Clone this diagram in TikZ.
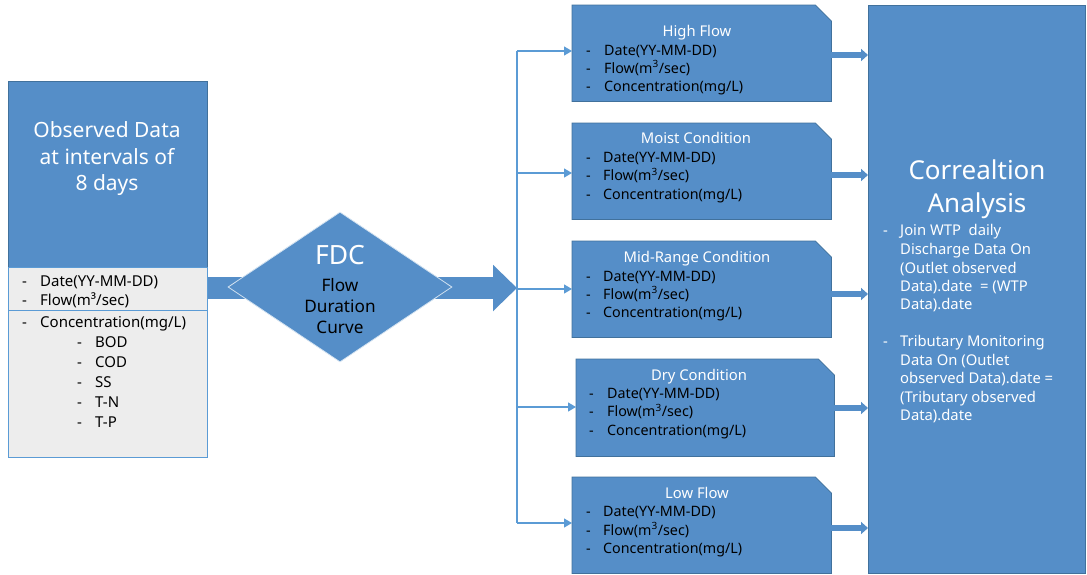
\documentclass[tikz,border=0pt]{standalone}
\usepackage{fontspec}
\setmainfont{Noto Sans}
\usetikzlibrary{arrows.meta,shapes.geometric,calc}
\definecolor{cblue}{RGB}{85,142,200}
\definecolor{cedge}{RGB}{65,113,156}
\definecolor{cline}{RGB}{91,155,213}
\definecolor{cgrey}{RGB}{237,237,237}
\newcommand\rowitem[6]{%
  \node[txt,font=\fontsize{#6}{#6}\selectfont] (#1d) at (#2,#4) {-};
  \node[txt,font=\fontsize{#6}{#6}\selectfont] (#1) at (#3,#4) {#5};}
\begin{document}
\begin{tikzpicture}[x=1pt,y=-1pt,
  txt/.style={inner sep=0pt,anchor=west,text height=1.04em,text depth=0pt,text=black},
  ctxt/.style={inner sep=0pt,anchor=center,text height=1.04em,text depth=0pt},
  btxt/.style={inner sep=0pt,anchor=center,text height=1.4em,text depth=0pt},
  wtxt/.style={txt,text=white,font=\fontsize{14.8}{15}\selectfont},
  ttl/.style={ctxt,text=white,font=\fontsize{14.8}{15}\selectfont},
  boxfill/.style={fill=cblue,draw=cedge,line width=0.8pt},
  branch/.style={draw=cline,line width=1.2pt,-{Triangle[length=8pt,width=9pt]}},
  smallarrow/.style={draw=cblue,line width=5.5pt,-{Triangle[length=7pt,width=12pt]}},
  box/.style={rectangle,inner sep=0pt,anchor=north west}]
\useasboundingbox (0,0) rectangle (1087,574);

% ---------- left box ----------
\node[box,fill=cblue,draw=cedge,line width=0.8pt,minimum width=199pt,minimum height=186pt] (obs) at (8,81) {};
\node[box,fill=cgrey,draw=cline,line width=0.8pt,minimum width=199pt,minimum height=190pt] (obsd) at (8,267) {};
\draw[cline,line width=0.8pt] ($(obsd.north west)+(0,43)$) -- ($(obsd.north east)+(0,43)$);
\node[btxt,text=white,font=\fontsize{21}{21}\selectfont] (obst1) at (107,130) {Observed Data};
\node[btxt,text=white,font=\fontsize{21}{21}\selectfont] (obst2) at (107,157) {at intervals of};
\node[btxt,text=white,font=\fontsize{21}{21}\selectfont] (obst3) at (107,183) {8 days};
\rowitem{la}{22}{40}{281}{Date(YY-MM-DD)}{15}
\rowitem{lb}{22}{40}{300}{Flow(m³/sec)}{15}
\rowitem{lc}{22}{40}{322}{Concentration(mg/L)}{15}
\rowitem{ld}{77}{95}{342}{BOD}{15}
\rowitem{le}{77}{95}{362}{COD}{15}
\rowitem{lf}{77}{95}{382}{SS}{15}
\rowitem{lg}{77}{95}{402}{T-N}{15}
\rowitem{lh}{77}{95}{422}{T-P}{15}

% ---------- big arrow and diamond ----------
\coordinate (br) at (517,288);
\draw[cblue,line width=22pt,-{Triangle[length=24pt,width=45pt]}] (obs.south east |- br) -- (br);
\node[diamond,fill=cblue,draw=white!75!cblue,line width=0.8pt,inner sep=0pt,minimum width=224pt,minimum height=150pt] (fdc) at (340,287) {};
\node[btxt,text=white,font=\fontsize{26.5}{27}\selectfont] (fdct) at (340,257) {FDC};
\node[ctxt,text=black,font=\fontsize{17.2}{18}\selectfont] (fdcs1) at (340,286) {Flow};
\node[ctxt,text=black,font=\fontsize{17.2}{18}\selectfont] (fdcs2) at (340,307) {Duration};
\node[ctxt,text=black,font=\fontsize{17.2}{18}\selectfont] (fdcs3) at (340,328) {Curve};

% ---------- condition boxes ----------
\node[box,minimum width=259pt,minimum height=96pt] (b1) at (572,5) {};
\node[box,minimum width=259pt,minimum height=96pt] (b2) at (572,123) {};
\node[box,minimum width=259pt,minimum height=96pt] (b3) at (572,241) {};
\node[box,minimum width=258pt,minimum height=97pt] (b4) at (576,359) {};
\node[box,minimum width=259pt,minimum height=96pt] (b5) at (572,477) {};
\foreach \b in {b1,b2,b3,b4,b5}
  \path[boxfill] (\b.north west) -- ($(\b.north east)+(-16,0)$) -- ($(\b.north east)+(0,16)$)
    -- (\b.south east) -- (\b.south west) -- cycle;

\node[ttl] (t1) at (697,31) {High Flow};
\rowitem{a1}{586}{604}{50}{Date(YY-MM-DD)}{14.3}
\rowitem{a2}{586}{604}{68}{Flow(m\textsuperscript{3}/sec)}{14.3}
\rowitem{a3}{586}{604}{86.5}{Concentration(mg/L)}{14.3}

\node[ttl] (t2) at (696,138.5) {Moist Condition};
\rowitem{c1}{586}{603}{157}{Date(YY-MM-DD)}{14.3}
\rowitem{c2}{586}{603}{175.5}{Flow(m\textsuperscript{3}/sec)}{14.3}
\rowitem{c3}{586}{603}{194}{Concentration(mg/L)}{14.3}

\node[ttl] (t3) at (697,257) {Mid-Range Condition};
\rowitem{e1}{586}{603}{276}{Date(YY-MM-DD)}{14.3}
\rowitem{e2}{586}{603}{294}{Flow(m\textsuperscript{3}/sec)}{14.3}
\rowitem{e3}{586}{603}{312.5}{Concentration(mg/L)}{14.3}

\node[ttl] (t4) at (699,375) {Dry Condition};
\rowitem{g1}{589}{607}{393}{Date(YY-MM-DD)}{14.3}
\rowitem{g2}{589}{607}{411.5}{Flow(m\textsuperscript{3}/sec)}{14.3}
\rowitem{g3}{589}{607}{430}{Concentration(mg/L)}{14.3}

\node[ttl] (t5) at (697,493) {Low Flow};
\rowitem{h1}{586}{603}{511.5}{Date(YY-MM-DD)}{14.3}
\rowitem{h2}{586}{603}{530}{Flow(m\textsuperscript{3}/sec)}{14.3}
\rowitem{h3}{586}{603}{548.5}{Concentration(mg/L)}{14.3}

% ---------- branches ----------
\coordinate (v1) at (517,51);
\coordinate (v2) at (517,173);
\coordinate (v3) at (517,289);
\coordinate (v4) at (517,407);
\coordinate (v5) at (517,523);
\draw[cline,line width=1.2pt] (v1) -- (v5);
\draw[branch] (v1) -- (v1 -| b1.west);
\draw[branch] (v2) -- (v2 -| b2.west);
\draw[branch] (v3) -- (v3 -| b3.west);
\draw[branch] (v4) -- (v4 -| b4.west);
\draw[branch] (v5) -- (v5 -| b5.west);

% ---------- correlation box ----------
\node[box,fill=cblue,draw=cedge,line width=0.8pt,minimum width=217pt,minimum height=568pt] (corr) at (868,5) {};
\node[btxt,text=white,font=\fontsize{26}{26}\selectfont] (ct1) at (977,172) {Correaltion};
\node[btxt,text=white,font=\fontsize{26}{26}\selectfont] (ct2) at (977,205) {Analysis};
\node[wtxt] (cd1) at (883,230) {-};
\node[wtxt] (cl1) at (900,230) {Join WTP\ \ daily};
\node[wtxt] (cl2) at (900,249) {Discharge Data On};
\node[wtxt] (cl3) at (900,268) {(Outlet observed};
\node[wtxt] (cl4) at (900,286) {Data).date\ \ = (WTP};
\node[wtxt] (cl5) at (900,304) {Data).date};
\node[wtxt] (cd2) at (883,341) {-};
\node[wtxt] (cl6) at (900,341) {Tributary Monitoring};
\node[wtxt] (cl7) at (900,360) {Data On (Outlet};
\node[wtxt] (cl8) at (900,378) {observed Data).date =};
\node[wtxt] (cl9) at (900,397) {(Tributary observed};
\node[wtxt] (cl10) at (900,415) {Data).date};

% ---------- small arrows ----------
\draw[smallarrow] (b1.east |- 0,55) -- (corr.west |- 0,55);
\draw[smallarrow] (b2.east |- 0,175) -- (corr.west |- 0,175);
\draw[smallarrow] (b3.east |- 0,294) -- (corr.west |- 0,294);
\draw[smallarrow] (b4.east |- 0,408) -- (corr.west |- 0,408);
\draw[smallarrow] (b5.east |- 0,528) -- (corr.west |- 0,528);
\end{tikzpicture}
\end{document}
